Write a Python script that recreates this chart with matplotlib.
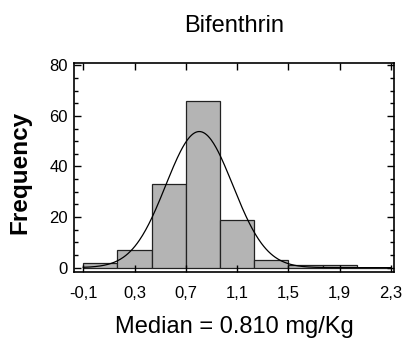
import numpy as np
import matplotlib
matplotlib.use("Agg")
import matplotlib.pyplot as plt
from matplotlib.ticker import MultipleLocator, FixedLocator

plt.rcParams['font.family'] = ['Liberation Sans', 'DejaVu Sans']

# Data
bin_edges = [-0.1, 0.1667, 0.4333, 0.7, 0.9667, 1.2333, 1.5, 1.7667, 2.0333, 2.3]
counts = [2, 7, 33, 66, 19, 3, 1, 1, 0]
fit_mean = 0.805
fit_sd = 0.261
x_ticks = [-0.1, 0.3, 0.7, 1.1, 1.5, 1.9, 2.3]
x_ticklabels = ["-0,1", "0,3", "0,7", "1,1", "1,5", "1,9", "2,3"]
y_ticks = [0, 20, 40, 60, 80]
title = "Bifenthrin"
xlabel = "Median = 0.810 mg/Kg"
ylabel = "Frequency"

fig = plt.figure(figsize=(4.05, 3.42), dpi=100)
ax = fig.add_axes([0.1815, 0.2056, 0.7921, 0.6102])

edges = np.array(bin_edges)
widths = np.diff(edges)
ax.bar(edges[:-1], counts, width=widths, align='edge', color='#b4b4b4',
       edgecolor='#222222', linewidth=0.9)

n_total = sum(counts)
bw = widths.mean()
xs = np.linspace(edges[0], edges[-1], 400)
ys = n_total * bw / (fit_sd * np.sqrt(2 * np.pi)) * np.exp(-0.5 * ((xs - fit_mean) / fit_sd) ** 2)
ax.plot(xs, ys, color='black', linewidth=0.9)

ax.set_xlim(-0.176, 2.326)
ax.set_ylim(-1.6, 80.9)
ax.xaxis.set_major_locator(FixedLocator(x_ticks))
ax.set_xticklabels(x_ticklabels)
ax.yaxis.set_major_locator(FixedLocator(y_ticks))
ax.yaxis.set_minor_locator(MultipleLocator(5))

ax.tick_params(axis='y', which='major', direction='in', length=5, width=1,
               left=True, right=True, labelsize=12, pad=4)
ax.tick_params(axis='y', which='minor', direction='in', length=3, width=1,
               left=True, right=True)
ax.tick_params(axis='x', which='major', direction='in', length=5, width=1,
               top=True, bottom=True, labelsize=12, pad=10)
for s in ax.spines.values():
    s.set_linewidth(1.2)

ax.set_title(title, fontsize=17, pad=22)
ax.set_xlabel(xlabel, fontsize=17, labelpad=11)
ax.set_ylabel(ylabel, fontsize=17.5, fontweight='bold')
ax.yaxis.set_label_coords(-0.132, 0.475)

fig.savefig("out.png", dpi=100)
